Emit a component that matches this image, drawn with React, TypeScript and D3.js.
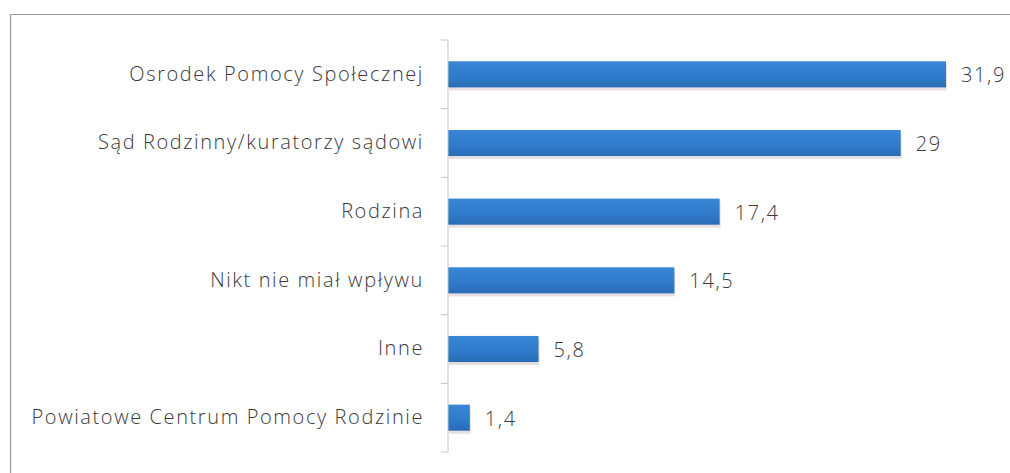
import React, { useEffect, useRef } from 'react';
import * as d3 from 'd3';

const categories = [
    'Osrodek Pomocy Społecznej',
    'Sąd Rodzinny/kuratorzy sądowi',
    'Rodzina',
    'Nikt nie miał wpływu',
    'Inne',
    'Powiatowe Centrum Pomocy Rodzinie',
];
const values = [31.9, 29, 17.4, 14.5, 5.8, 1.4];
const valueLabels = ['31,9', '29', '17,4', '14,5', '5,8', '1,4'];

const width = 1010;
const height = 473;

const font = '"Open Sans", Lato, sans-serif';

const App: React.FC = () => {
    const svgRef = useRef<SVGSVGElement | null>(null);

    useEffect(() => {
        if (!svgRef.current) return;
        const svg = d3.select(svgRef.current);
        svg.selectAll('*').remove();

        const axisX = 448;
        const top = 40;
        const bottom = 452;

        // frame (top and left edges only, as in the scan)
        svg.append('line')
            .attr('x1', 10).attr('x2', width).attr('y1', 14.5).attr('y2', 14.5)
            .attr('stroke', '#9a9a9a').attr('stroke-width', 1.2);
        svg.append('line')
            .attr('x1', 10.5).attr('x2', 10.5).attr('y1', 14).attr('y2', height)
            .attr('stroke', '#9a9a9a').attr('stroke-width', 1.2);

        const x = d3.scaleLinear().domain([0, 31.9]).range([axisX, 946]);
        const y = d3.scaleBand<string>()
            .domain(categories)
            .range([top, bottom])
            .paddingInner(0.62)
            .paddingOuter(0.31);

        const defs = svg.append('defs');
        const grad = defs.append('linearGradient')
            .attr('id', 'barGrad')
            .attr('x1', 0).attr('x2', 0).attr('y1', 0).attr('y2', 1);
        grad.append('stop').attr('offset', '0%').attr('stop-color', '#3a86d6');
        grad.append('stop').attr('offset', '60%').attr('stop-color', '#2f7acb');
        grad.append('stop').attr('offset', '100%').attr('stop-color', '#2a6cb6');

        const rows = categories.map((c, i) => ({ c, v: values[i], label: valueLabels[i] }));

        // soft shadow under bars
        svg.append('g')
            .selectAll('rect')
            .data(rows)
            .enter()
            .append('rect')
            .attr('x', x(0) + 1)
            .attr('y', d => (y(d.c) as number) + 3)
            .attr('width', d => x(d.v) - x(0))
            .attr('height', y.bandwidth())
            .attr('fill', '#d9c9cc')
            .attr('opacity', 0.6);

        svg.append('g')
            .selectAll('rect')
            .data(rows)
            .enter()
            .append('rect')
            .attr('x', x(0))
            .attr('y', d => y(d.c) as number)
            .attr('width', d => x(d.v) - x(0))
            .attr('height', y.bandwidth())
            .attr('fill', 'url(#barGrad)');

        // category axis
        const axis = svg.append('g')
            .attr('transform', `translate(${axisX},0)`)
            .call(
                d3.axisLeft(y)
                    .tickSize(0)
                    .tickPadding(24)
            );
        axis.select('.domain')
            .attr('stroke', '#c4c4c4')
            .attr('d', `M0,${top}V${bottom}`);
        axis.selectAll('text')
            .attr('fill', '#3a3a3a')
            .attr('font-family', font)
            .attr('font-size', 20)
            .attr('font-weight', 300)
            .attr('letter-spacing', 1.6);

        // boundary ticks between categories
        const step = y.step();
        const bounds = d3.range(categories.length + 1).map(i => top + i * step);
        svg.append('g')
            .selectAll('line')
            .data(bounds)
            .enter()
            .append('line')
            .attr('x1', axisX - 7)
            .attr('x2', axisX)
            .attr('y1', d => d)
            .attr('y2', d => d)
            .attr('stroke', '#c4c4c4');

        // value labels
        svg.append('g')
            .selectAll('text')
            .data(rows)
            .enter()
            .append('text')
            .attr('x', d => x(d.v) + 15)
            .attr('y', d => (y(d.c) as number) + y.bandwidth() / 2 + 1)
            .attr('dy', '0.35em')
            .attr('fill', '#3a3a3a')
            .attr('font-family', font)
            .attr('font-size', 20)
            .attr('font-weight', 300)
            .attr('letter-spacing', 1.6)
            .text(d => d.label);
    }, []);

    return (
        <svg
            ref={svgRef}
            width={width}
            height={height}
            style={{ position: 'absolute', left: 0, top: 0, background: '#fff' }}
        />
    );
};

export default App;
